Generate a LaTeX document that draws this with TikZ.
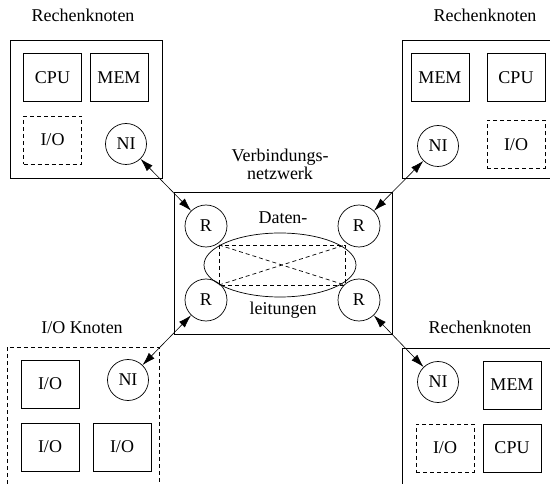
\documentclass[tikz,border=0pt]{standalone}
\usepackage{fontspec}
\setmainfont{Liberation Serif}
\usetikzlibrary{arrows.meta,shapes.geometric}
\begin{document}
\begin{tikzpicture}[x=1pt,y=-1pt, line width=0.7pt,
  every node/.style={font=\fontsize{18}{20}\selectfont, inner sep=0pt},
  unit/.style={draw, minimum width=58pt, minimum height=48pt},
  dsh/.style={dash pattern=on 4pt off 3pt},
  dunit/.style={unit, dsh},
  ni/.style={draw, circle, minimum size=41pt},
  link/.style={{Latex[length=13pt,width=8pt]}-{Latex[length=13pt,width=8pt]}, line width=0.6pt}]
\useasboundingbox (0,0) rectangle (550,484);

% top-left computing node
\draw (10,40) rectangle (162,178);
\node[anchor=base] (lab1) at (83,22) {Rechenknoten};
\node[unit] (cpu1) at (52.5,77.5) {CPU};
\node[unit] (mem1) at (119,77.5) {MEM};
\node[dunit] (io1) at (52.5,140) {I/O};
\node[ni] (ni1) at (126,144) {NI};

% top-right computing node
\draw (550,40) -- (402,40) -- (402,178) -- (550,178);
\node[anchor=base] (lab2) at (485,22) {Rechenknoten};
\node[unit] (mem2) at (440,77.5) {MEM};
\node[unit] (cpu2) at (516,77.5) {CPU};
\node[ni] (ni2) at (438,146) {NI};
\node[dunit] (io2) at (516,144.5) {I/O};

% interconnection network
\node[align=center, font=\fontsize{18}{18}\selectfont] (net) at (280,164) {Verbindungs-\\netzwerk};
\draw (174,192) rectangle (392,334);
\node[draw, ellipse, minimum width=152pt, minimum height=64pt] (ell) at (280,265) {};
\draw[dsh] (219,245) rectangle (345,285);
\draw[dsh] (219,245) -- (345,285);
\draw[dsh] (219,285) -- (345,245);
\node[ni, minimum size=42pt] (r1) at (206,226) {R};
\node[ni, minimum size=42pt] (r2) at (359,226) {R};
\node[ni, minimum size=42pt] (r3) at (206,300) {R};
\node[ni, minimum size=42pt] (r4) at (359,300) {R};
\node[anchor=base] (dat) at (283,224) {Daten-};
\node[anchor=base] (leit) at (283,315) {leitungen};

% bottom-left I/O node
\draw[dsh] (7,484) -- (7,347) -- (159,347) -- (159,484);
\node[anchor=base] (lab3) at (82,334) {I/O Knoten};
\node[unit] (io3) at (50,384) {I/O};
\node[ni] (ni3) at (128,380) {NI};
\node[unit] (io4) at (50,447) {I/O};
\node[unit] (io5) at (122,447) {I/O};

% bottom-right computing node
\draw (402,484) -- (402,348) -- (550,348);
\node[anchor=base] (lab4) at (480,334) {Rechenknoten};
\node[ni] (ni4) at (438,382) {NI};
\node[unit] (mem4) at (512,385) {MEM};
\node[dunit] (io6) at (445,448) {I/O};
\node[unit] (cpu4) at (512,448) {CPU};

% links
\draw[link] (ni1) -- (r1);
\draw[link] (ni2) -- (r2);
\draw[link] (ni3) -- (r3);
\draw[link] (ni4) -- (r4);
\end{tikzpicture}
\end{document}
